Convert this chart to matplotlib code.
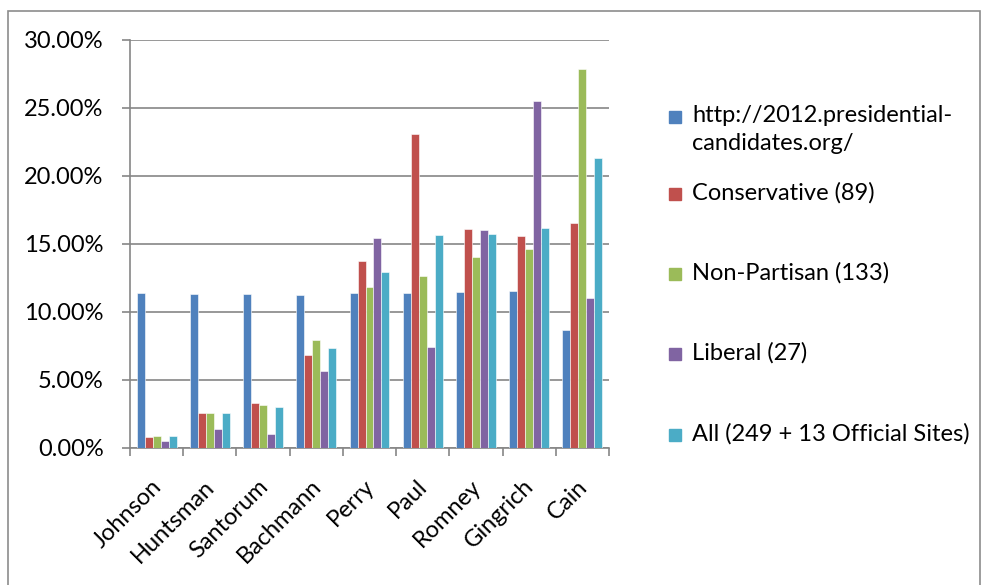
import matplotlib.pyplot as plt
import matplotlib.patches as patches
import matplotlib.transforms as mtransforms
import numpy as np

candidates = ['Johnson', 'Huntsman', 'Santorum', 'Bachmann', 'Perry',
              'Paul', 'Romney', 'Gingrich', 'Cain']
series_names = ['http://2012.presidential-\ncandidates.org/',
                'Conservative (89)',
                'Non-Partisan (133)',
                'Liberal (27)',
                'All (249 + 13 Official Sites)']
presidential = [11.37, 11.30, 11.35, 11.27, 11.37, 11.42, 11.47, 11.54, 8.68]
conservative = [0.83, 2.57, 3.28, 6.86, 13.73, 23.09, 16.08, 15.56, 16.54]
non_partisan = [0.88, 2.57, 3.19, 7.92, 11.86, 12.67, 14.02, 14.66, 27.85]
liberal = [0.54, 1.37, 1.05, 5.64, 15.42, 7.45, 16.00, 25.51, 11.00]
all_sites = [0.88, 2.57, 3.04, 7.33, 12.94, 15.64, 15.74, 16.18, 21.35]
y_ticks = [0, 5, 10, 15, 20, 25, 30]

colors = ['#4F81BD', '#C0504D', '#9BBB59', '#8064A2', '#4BACC6']
grid_c = '#868686'
fs = 17

plt.rcParams['font.family'] = ['Lato', 'DejaVu Sans']

fig = plt.figure(figsize=(9.81, 5.85), dpi=100)
ax = fig.add_axes([130 / 981, 1 - 448 / 585, 479 / 981, 408 / 585])

x = np.arange(len(candidates))
w = 0.15
data = [presidential, conservative, non_partisan, liberal, all_sites]
for i, vals in enumerate(data):
    ax.bar(x + (i - 2) * w, vals, width=w, color=colors[i],
           edgecolor='white', linewidth=0.4, zorder=3)

ax.set_xlim(-0.5, len(candidates) - 0.5)
ax.set_ylim(0, 30)
ax.set_yticks(y_ticks)
ax.set_yticklabels(['%.2f%%' % v for v in y_ticks], fontsize=fs)
ax.yaxis.grid(True, color=grid_c, linewidth=1.2, zorder=0)
ax.tick_params(axis='y', length=6, color=grid_c, width=1.2, pad=13)

ax.set_xticks(x)
ax.set_xticklabels(candidates, fontsize=fs, rotation=45,
                   ha='right', rotation_mode='anchor')
ax.set_xticks(np.arange(-0.5, len(candidates), 1), minor=True)
ax.tick_params(axis='x', which='major', length=0, pad=20)
ax.tick_params(axis='x', which='minor', length=6, color=grid_c, width=1.2)
shift = mtransforms.ScaledTranslation(-6 / 100, 0, fig.dpi_scale_trans)
for lab in ax.get_xticklabels():
    lab.set_transform(lab.get_transform() + shift)

for s in ['top', 'right']:
    ax.spines[s].set_visible(False)
for s in ['left', 'bottom']:
    ax.spines[s].set_color(grid_c)
    ax.spines[s].set_linewidth(1.2)

# legend, drawn by hand so the marker sits on the first text line
leg_y = [117, 194, 274, 354, 435]
for i, name in enumerate(series_names):
    yc = 1 - leg_y[i] / 585
    fig.patches.append(patches.Rectangle((669 / 981, yc - 6 / 585), 12 / 981, 12 / 585,
                                         transform=fig.transFigure, color=colors[i]))
    fig.text(692 / 981, yc + 12 / 585, name, fontsize=fs, va='top', ha='left',
             linespacing=1.4)

# chart area border
fig.patches.append(patches.Rectangle((7.5 / 981, -0.01), 972 / 981, 1.01 - 10.5 / 585,
                                     transform=fig.transFigure, fill=False,
                                     edgecolor='#8c8c8c', linewidth=1.2))

fig.savefig('out.png', dpi=100)
